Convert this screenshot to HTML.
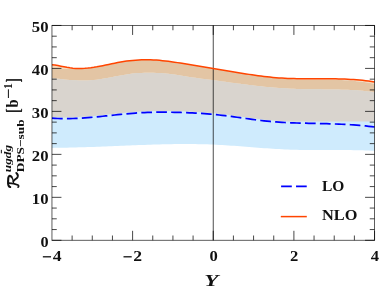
<!DOCTYPE html>
<html><head><meta charset="utf-8"><title>plot</title>
<style>
html,body{margin:0;padding:0;background:#fff;}
body{width:381px;height:294px;overflow:hidden;font-family:"Liberation Serif",serif;}
svg{display:block;}
text{filter:grayscale(1);font-family:"Liberation Serif",serif;font-weight:bold;font-size:15.2px;fill:#111;}
</style></head><body>
<svg width="381" height="294" viewBox="0 0 381 294">
<rect width="381" height="294" fill="#fff"/>
<!-- LO band -->
<path d="M52.0,78.25L54.9,78.52L57.9,78.81L60.9,79.11L63.9,79.39L66.9,79.67L69.9,79.92L72.9,80.14L75.8,80.32L78.8,80.45L81.8,80.52L84.8,80.52L87.8,80.45L90.8,80.30L93.8,80.05L96.8,79.71L99.7,79.31L102.7,78.84L105.7,78.32L108.7,77.77L111.7,77.20L114.7,76.61L117.7,76.03L120.7,75.47L123.6,74.93L126.6,74.44L129.6,74.00L132.6,73.62L135.6,73.31L138.6,73.07L141.6,72.89L144.5,72.77L147.5,72.71L150.5,72.71L153.5,72.77L156.5,72.88L159.5,73.05L162.5,73.27L165.5,73.54L168.4,73.85L171.4,74.22L174.4,74.62L177.4,75.06L180.4,75.52L183.4,75.99L186.4,76.46L189.4,76.93L192.3,77.38L195.3,77.81L198.3,78.22L201.3,78.63L204.3,79.02L207.3,79.42L210.3,79.81L213.2,80.21L216.2,80.61L219.2,81.02L222.2,81.43L225.2,81.84L228.2,82.24L231.2,82.65L234.2,83.05L237.1,83.45L240.1,83.84L243.1,84.23L246.1,84.61L249.1,84.97L252.1,85.33L255.1,85.68L258.1,86.02L261.0,86.34L264.0,86.64L267.0,86.94L270.0,87.21L273.0,87.47L276.0,87.72L279.0,87.95L282.0,88.16L284.9,88.35L287.9,88.53L290.9,88.69L293.9,88.83L296.9,88.95L299.9,89.05L302.9,89.13L305.8,89.20L308.8,89.25L311.8,89.29L314.8,89.32L317.8,89.35L320.8,89.37L323.8,89.39L326.8,89.41L329.7,89.44L332.7,89.47L335.7,89.52L338.7,89.57L341.7,89.65L344.7,89.74L347.7,89.85L350.7,89.99L353.6,90.15L356.6,90.35L359.6,90.58L362.6,90.84L365.6,91.14L368.6,91.48L371.6,91.86L374.6,92.29L374.6,150.86L371.6,150.71L368.6,150.58L365.6,150.46L362.6,150.36L359.6,150.27L356.6,150.19L353.6,150.13L350.7,150.08L347.7,150.04L344.7,150.01L341.7,149.99L338.7,149.98L335.7,149.97L332.7,149.97L329.7,149.98L326.8,149.99L323.8,149.99L320.8,150.00L317.8,150.01L314.8,150.01L311.8,150.00L308.8,149.99L305.8,149.97L302.9,149.94L299.9,149.89L296.9,149.83L293.9,149.75L290.9,149.66L287.9,149.54L284.9,149.41L282.0,149.27L279.0,149.11L276.0,148.93L273.0,148.74L270.0,148.55L267.0,148.34L264.0,148.13L261.0,147.91L258.1,147.68L255.1,147.45L252.1,147.22L249.1,146.99L246.1,146.76L243.1,146.53L240.1,146.30L237.1,146.07L234.2,145.86L231.2,145.64L228.2,145.44L225.2,145.25L222.2,145.07L219.2,144.90L216.2,144.74L213.2,144.60L210.3,144.47L207.3,144.37L204.3,144.27L201.3,144.20L198.3,144.14L195.3,144.09L192.3,144.05L189.4,144.03L186.4,144.03L183.4,144.03L180.4,144.04L177.4,144.07L174.4,144.11L171.4,144.15L168.4,144.21L165.5,144.27L162.5,144.34L159.5,144.42L156.5,144.50L153.5,144.60L150.5,144.69L147.5,144.79L144.5,144.90L141.6,145.01L138.6,145.12L135.6,145.24L132.6,145.36L129.6,145.48L126.6,145.60L123.6,145.72L120.7,145.84L117.7,145.96L114.7,146.08L111.7,146.20L108.7,146.32L105.7,146.44L102.7,146.55L99.7,146.67L96.8,146.78L93.8,146.88L90.8,146.99L87.8,147.09L84.8,147.19L81.8,147.28L78.8,147.37L75.8,147.45L72.9,147.53L69.9,147.60L66.9,147.67L63.9,147.73L60.9,147.78L57.9,147.82L54.9,147.86L52.0,147.89Z" fill="#cfebfd"/>
<!-- overlap -->
<path d="M52.0,78.25L54.9,78.52L57.9,78.81L60.9,79.11L63.9,79.39L66.9,79.67L69.9,79.92L72.9,80.14L75.8,80.32L78.8,80.45L81.8,80.52L84.8,80.52L87.8,80.45L90.8,80.30L93.8,80.05L96.8,79.71L99.7,79.31L102.7,78.84L105.7,78.32L108.7,77.77L111.7,77.20L114.7,76.61L117.7,76.03L120.7,75.47L123.6,74.93L126.6,74.44L129.6,74.00L132.6,73.62L135.6,73.31L138.6,73.07L141.6,72.89L144.5,72.77L147.5,72.71L150.5,72.71L153.5,72.77L156.5,72.88L159.5,73.05L162.5,73.27L165.5,73.54L168.4,73.85L171.4,74.22L174.4,74.62L177.4,75.06L180.4,75.52L183.4,75.99L186.4,76.46L189.4,76.93L192.3,77.38L195.3,77.81L198.3,78.22L201.3,78.63L204.3,79.02L207.3,79.42L210.3,79.81L213.2,80.21L216.2,80.61L219.2,81.02L222.2,81.43L225.2,81.84L228.2,82.24L231.2,82.65L234.2,83.05L237.1,83.45L240.1,83.84L243.1,84.23L246.1,84.61L249.1,84.97L252.1,85.33L255.1,85.68L258.1,86.02L261.0,86.34L264.0,86.64L267.0,86.94L270.0,87.21L273.0,87.47L276.0,87.72L279.0,87.95L282.0,88.16L284.9,88.35L287.9,88.53L290.9,88.69L293.9,88.83L296.9,88.95L299.9,89.05L302.9,89.13L305.8,89.20L308.8,89.25L311.8,89.29L314.8,89.32L317.8,89.35L320.8,89.37L323.8,89.39L326.8,89.41L329.7,89.44L332.7,89.47L335.7,89.52L338.7,89.57L341.7,89.65L344.7,89.74L347.7,89.85L350.7,89.99L353.6,90.15L356.6,90.35L359.6,90.58L362.6,90.84L365.6,91.14L368.6,91.48L371.6,91.86L374.6,92.29L374.6,121.60L371.6,121.60L368.6,121.60L365.6,121.60L362.6,121.60L359.6,121.60L356.6,121.60L353.6,121.60L350.7,121.60L347.7,121.60L344.7,121.60L341.7,121.60L338.7,121.60L335.7,121.60L332.7,121.60L329.7,121.60L326.8,121.60L323.8,121.60L320.8,121.60L317.8,121.60L314.8,121.60L311.8,121.60L308.8,121.60L305.8,121.60L302.9,121.60L299.9,121.60L296.9,121.60L293.9,121.60L290.9,121.59L287.9,121.46L284.9,121.32L282.0,121.16L279.0,120.98L276.0,120.77L273.0,120.54L270.0,120.27L267.0,119.97L264.0,119.65L261.0,119.31L258.1,118.94L255.1,118.56L252.1,118.16L249.1,117.75L246.1,117.33L243.1,116.91L240.1,116.49L237.1,116.07L234.2,115.66L231.2,115.26L228.2,114.87L225.2,114.49L222.2,114.13L219.2,113.80L216.2,113.49L213.2,113.20L210.3,112.93L207.3,112.68L204.3,112.46L201.3,112.25L198.3,112.06L195.3,111.89L192.3,111.74L189.4,111.60L186.4,111.48L183.4,111.37L180.4,111.27L177.4,111.19L174.4,111.12L171.4,111.06L168.4,111.02L165.5,110.99L162.5,110.98L159.5,110.98L156.5,111.01L153.5,111.05L150.5,111.12L147.5,111.22L144.5,111.34L141.6,111.49L138.6,111.66L135.6,111.87L132.6,112.10L129.6,112.35L126.6,112.62L123.6,112.90L120.7,113.20L117.7,113.50L114.7,113.82L111.7,114.13L108.7,114.45L105.7,114.76L102.7,115.07L99.7,115.37L96.8,115.66L93.8,115.94L90.8,116.20L87.8,116.44L84.8,116.66L81.8,116.85L78.8,117.02L75.8,117.17L72.9,117.28L69.9,117.36L66.9,117.40L63.9,117.41L60.9,117.37L57.9,117.29L54.9,117.17L52.0,117.00Z" fill="#d9d4ce"/>
<!-- light strip under NLO curve -->
<path d="M52.0,64.75L54.9,65.10L57.9,65.59L60.9,66.16L63.9,66.76L66.9,67.34L69.9,67.84L72.9,68.20L75.8,68.43L78.8,68.52L81.8,68.49L84.8,68.34L87.8,68.09L90.8,67.74L93.8,67.31L96.8,66.81L99.7,66.26L102.7,65.67L105.7,65.05L108.7,64.41L111.7,63.78L114.7,63.16L117.7,62.57L120.7,62.02L123.6,61.52L126.6,61.08L129.6,60.70L132.6,60.39L135.6,60.13L138.6,59.93L141.6,59.80L144.5,59.73L147.5,59.73L150.5,59.79L153.5,59.92L156.5,60.11L159.5,60.35L162.5,60.64L165.5,60.98L168.4,61.35L171.4,61.75L174.4,62.18L177.4,62.63L180.4,63.09L183.4,63.56L186.4,64.03L189.4,64.51L192.3,65.00L195.3,65.49L198.3,65.98L201.3,66.48L204.3,66.98L207.3,67.48L210.3,67.98L213.2,68.49L216.2,68.99L219.2,69.50L222.2,70.00L225.2,70.50L228.2,71.01L231.2,71.51L234.2,72.00L237.1,72.50L240.1,72.98L243.1,73.46L246.1,73.93L249.1,74.38L252.1,74.83L255.1,75.25L258.1,75.66L261.0,76.05L264.0,76.42L267.0,76.77L270.0,77.09L273.0,77.38L276.0,77.65L279.0,77.89L282.0,78.09L284.9,78.27L287.9,78.41L290.9,78.53L293.9,78.62L296.9,78.69L299.9,78.74L302.9,78.77L305.8,78.79L308.8,78.80L311.8,78.80L314.8,78.80L317.8,78.80L320.8,78.79L323.8,78.79L326.8,78.79L329.7,78.81L332.7,78.83L335.7,78.87L338.7,78.93L341.7,79.01L344.7,79.11L347.7,79.23L350.7,79.39L353.6,79.57L356.6,79.79L359.6,80.05L362.6,80.35L365.6,80.69L368.6,81.07L371.6,81.50L374.6,81.98L374.6,83.78L371.6,83.22L368.6,82.71L365.6,82.25L362.6,81.84L359.6,81.46L356.6,81.13L353.6,80.83L350.7,80.57L347.7,80.33L344.7,80.13L341.7,79.95L338.7,79.83L335.7,79.77L332.7,79.73L329.7,79.71L326.8,79.69L323.8,79.69L320.8,79.69L317.8,79.70L314.8,79.70L311.8,79.70L308.8,79.70L305.8,79.69L302.9,79.67L299.9,79.63L296.9,79.45L293.9,79.24L290.9,79.02L287.9,78.77L284.9,78.49L282.0,78.18L279.0,77.89L276.0,77.65L273.0,77.38L270.0,77.09L267.0,76.77L264.0,76.42L261.0,76.05L258.1,75.66L255.1,75.25L252.1,74.83L249.1,74.38L246.1,73.93L243.1,73.46L240.1,72.98L237.1,72.50L234.2,72.00L231.2,71.51L228.2,71.01L225.2,70.50L222.2,70.00L219.2,69.50L216.2,68.99L213.2,68.49L210.3,67.98L207.3,67.48L204.3,66.98L201.3,66.48L198.3,65.98L195.3,65.49L192.3,65.00L189.4,64.51L186.4,64.03L183.4,63.56L180.4,63.09L177.4,62.63L174.4,62.18L171.4,61.75L168.4,61.35L165.5,60.98L162.5,60.64L159.5,60.35L156.5,60.11L153.5,59.92L150.5,59.79L147.5,59.73L144.5,59.73L141.6,59.80L138.6,59.93L135.6,60.13L132.6,60.39L129.6,60.70L126.6,61.08L123.6,61.52L120.7,62.02L117.7,62.57L114.7,63.16L111.7,63.78L108.7,64.41L105.7,65.05L102.7,65.67L99.7,66.26L96.8,66.81L93.8,67.31L90.8,67.74L87.8,68.09L84.8,68.34L81.8,68.49L78.8,68.52L75.8,68.73L72.9,68.93L69.9,68.99L66.9,68.92L63.9,68.77L60.9,68.59L57.9,68.44L54.9,68.37L52.0,68.45Z" fill="#f9d9b8"/>
<!-- NLO band -->
<path d="M52.0,68.45L54.9,68.37L57.9,68.44L60.9,68.59L63.9,68.77L66.9,68.92L69.9,68.99L72.9,68.93L75.8,68.73L78.8,68.52L81.8,68.49L84.8,68.34L87.8,68.09L90.8,67.74L93.8,67.31L96.8,66.81L99.7,66.26L102.7,65.67L105.7,65.05L108.7,64.41L111.7,63.78L114.7,63.16L117.7,62.57L120.7,62.02L123.6,61.52L126.6,61.08L129.6,60.70L132.6,60.39L135.6,60.13L138.6,59.93L141.6,59.80L144.5,59.73L147.5,59.73L150.5,59.79L153.5,59.92L156.5,60.11L159.5,60.35L162.5,60.64L165.5,60.98L168.4,61.35L171.4,61.75L174.4,62.18L177.4,62.63L180.4,63.09L183.4,63.56L186.4,64.03L189.4,64.51L192.3,65.00L195.3,65.49L198.3,65.98L201.3,66.48L204.3,66.98L207.3,67.48L210.3,67.98L213.2,68.49L216.2,68.99L219.2,69.50L222.2,70.00L225.2,70.50L228.2,71.01L231.2,71.51L234.2,72.00L237.1,72.50L240.1,72.98L243.1,73.46L246.1,73.93L249.1,74.38L252.1,74.83L255.1,75.25L258.1,75.66L261.0,76.05L264.0,76.42L267.0,76.77L270.0,77.09L273.0,77.38L276.0,77.65L279.0,77.89L282.0,78.18L284.9,78.49L287.9,78.77L290.9,79.02L293.9,79.24L296.9,79.45L299.9,79.63L302.9,79.67L305.8,79.69L308.8,79.70L311.8,79.70L314.8,79.70L317.8,79.70L320.8,79.69L323.8,79.69L326.8,79.69L329.7,79.71L332.7,79.73L335.7,79.77L338.7,79.83L341.7,79.95L344.7,80.13L347.7,80.33L350.7,80.57L353.6,80.83L356.6,81.13L359.6,81.46L362.6,81.84L365.6,82.25L368.6,82.71L371.6,83.22L374.6,83.78L374.6,92.29L371.6,91.86L368.6,91.48L365.6,91.14L362.6,90.84L359.6,90.58L356.6,90.35L353.6,90.15L350.7,89.99L347.7,89.85L344.7,89.74L341.7,89.65L338.7,89.57L335.7,89.52L332.7,89.47L329.7,89.44L326.8,89.41L323.8,89.39L320.8,89.37L317.8,89.35L314.8,89.32L311.8,89.29L308.8,89.25L305.8,89.20L302.9,89.13L299.9,89.05L296.9,88.95L293.9,88.83L290.9,88.69L287.9,88.53L284.9,88.35L282.0,88.16L279.0,87.95L276.0,87.72L273.0,87.47L270.0,87.21L267.0,86.94L264.0,86.64L261.0,86.34L258.1,86.02L255.1,85.68L252.1,85.33L249.1,84.97L246.1,84.61L243.1,84.23L240.1,83.84L237.1,83.45L234.2,83.05L231.2,82.65L228.2,82.24L225.2,81.84L222.2,81.43L219.2,81.02L216.2,80.61L213.2,80.21L210.3,79.81L207.3,79.42L204.3,79.02L201.3,78.63L198.3,78.22L195.3,77.81L192.3,77.38L189.4,76.93L186.4,76.46L183.4,75.99L180.4,75.52L177.4,75.06L174.4,74.62L171.4,74.22L168.4,73.85L165.5,73.54L162.5,73.27L159.5,73.05L156.5,72.88L153.5,72.77L150.5,72.71L147.5,72.71L144.5,72.77L141.6,72.89L138.6,73.07L135.6,73.31L132.6,73.62L129.6,74.00L126.6,74.44L123.6,74.93L120.7,75.47L117.7,76.03L114.7,76.61L111.7,77.20L108.7,77.77L105.7,78.32L102.7,78.84L99.7,79.31L96.8,79.71L93.8,80.05L90.8,80.30L87.8,80.45L84.8,80.52L81.8,80.52L78.8,80.45L75.8,80.32L72.9,80.14L69.9,79.92L66.9,79.67L63.9,79.39L60.9,79.11L57.9,78.81L54.9,78.52L52.0,78.25Z" fill="#e3c5a4"/>
<!-- zero line -->
<path d="M213.25,25.45V240.3" stroke="#000" stroke-opacity="0.78" stroke-width="0.9" fill="none"/>
<!-- LO curve -->
<path d="M52.0,118.20L54.9,118.37L57.9,118.49L60.9,118.57L63.9,118.61L66.9,118.60L69.9,118.56L72.9,118.48L75.8,118.37L78.8,118.22L81.8,118.05L84.8,117.86L87.8,117.64L90.8,117.40L93.8,117.14L96.8,116.86L99.7,116.57L102.7,116.27L105.7,115.96L108.7,115.65L111.7,115.33L114.7,115.02L117.7,114.70L120.7,114.40L123.6,114.10L126.6,113.82L129.6,113.55L132.6,113.30L135.6,113.07L138.6,112.86L141.6,112.69L144.5,112.54L147.5,112.42L150.5,112.32L153.5,112.25L156.5,112.21L159.5,112.18L162.5,112.18L165.5,112.19L168.4,112.22L171.4,112.26L174.4,112.32L177.4,112.39L180.4,112.47L183.4,112.57L186.4,112.68L189.4,112.80L192.3,112.94L195.3,113.09L198.3,113.26L201.3,113.45L204.3,113.66L207.3,113.88L210.3,114.13L213.2,114.40L216.2,114.69L219.2,115.00L222.2,115.33L225.2,115.69L228.2,116.07L231.2,116.46L234.2,116.86L237.1,117.27L240.1,117.69L243.1,118.11L246.1,118.53L249.1,118.95L252.1,119.36L255.1,119.76L258.1,120.14L261.0,120.51L264.0,120.85L267.0,121.17L270.0,121.47L273.0,121.74L276.0,121.97L279.0,122.18L282.0,122.36L284.9,122.52L287.9,122.66L290.9,122.79L293.9,122.89L296.9,122.99L299.9,123.07L302.9,123.15L305.8,123.22L308.8,123.28L311.8,123.35L314.8,123.41L317.8,123.48L320.8,123.55L323.8,123.63L326.8,123.71L329.7,123.80L332.7,123.90L335.7,124.01L338.7,124.13L341.7,124.26L344.7,124.41L347.7,124.57L350.7,124.75L353.6,124.95L356.6,125.17L359.6,125.41L362.6,125.68L365.6,125.96L368.6,126.28L371.6,126.62L374.6,126.98" fill="none" stroke="#0000ff" stroke-width="1.7" stroke-dasharray="10.7 4.23"/>
<!-- NLO curve -->
<path d="M52.0,64.75L54.9,65.10L57.9,65.59L60.9,66.16L63.9,66.76L66.9,67.34L69.9,67.84L72.9,68.20L75.8,68.43L78.8,68.52L81.8,68.49L84.8,68.34L87.8,68.09L90.8,67.74L93.8,67.31L96.8,66.81L99.7,66.26L102.7,65.67L105.7,65.05L108.7,64.41L111.7,63.78L114.7,63.16L117.7,62.57L120.7,62.02L123.6,61.52L126.6,61.08L129.6,60.70L132.6,60.39L135.6,60.13L138.6,59.93L141.6,59.80L144.5,59.73L147.5,59.73L150.5,59.79L153.5,59.92L156.5,60.11L159.5,60.35L162.5,60.64L165.5,60.98L168.4,61.35L171.4,61.75L174.4,62.18L177.4,62.63L180.4,63.09L183.4,63.56L186.4,64.03L189.4,64.51L192.3,65.00L195.3,65.49L198.3,65.98L201.3,66.48L204.3,66.98L207.3,67.48L210.3,67.98L213.2,68.49L216.2,68.99L219.2,69.50L222.2,70.00L225.2,70.50L228.2,71.01L231.2,71.51L234.2,72.00L237.1,72.50L240.1,72.98L243.1,73.46L246.1,73.93L249.1,74.38L252.1,74.83L255.1,75.25L258.1,75.66L261.0,76.05L264.0,76.42L267.0,76.77L270.0,77.09L273.0,77.38L276.0,77.65L279.0,77.89L282.0,78.09L284.9,78.27L287.9,78.41L290.9,78.53L293.9,78.62L296.9,78.69L299.9,78.74L302.9,78.77L305.8,78.79L308.8,78.80L311.8,78.80L314.8,78.80L317.8,78.80L320.8,78.79L323.8,78.79L326.8,78.79L329.7,78.81L332.7,78.83L335.7,78.87L338.7,78.93L341.7,79.01L344.7,79.11L347.7,79.23L350.7,79.39L353.6,79.57L356.6,79.79L359.6,80.05L362.6,80.35L365.6,80.69L368.6,81.07L371.6,81.50L374.6,81.98" fill="none" stroke="#ff4500" stroke-width="1.5"/>
<!-- frame + ticks -->
<rect x="51.95" y="25.45" width="322.60" height="214.85" fill="none" stroke="#000" stroke-opacity="0.7" stroke-width="0.9"/>
<path d="M51.95,240.30h9.5M374.55,240.30h-9.5M51.95,197.33h9.5M374.55,197.33h-9.5M51.95,154.36h9.5M374.55,154.36h-9.5M51.95,111.39h9.5M374.55,111.39h-9.5M51.95,68.42h9.5M374.55,68.42h-9.5M51.95,25.45h9.5M374.55,25.45h-9.5M132.60,240.3v-9.5M132.60,25.45v9.5M213.25,240.3v-9.5M213.25,25.45v9.5M293.90,240.3v-9.5M293.90,25.45v9.5M374.55,240.3v-9.5M374.55,25.45v9.5" fill="none" stroke="#000" stroke-opacity="0.8" stroke-width="0.9"/>
<path d="M51.95,229.56h4.8M374.55,229.56h-4.8M51.95,218.81h4.8M374.55,218.81h-4.8M51.95,208.07h4.8M374.55,208.07h-4.8M51.95,186.59h4.8M374.55,186.59h-4.8M51.95,175.84h4.8M374.55,175.84h-4.8M51.95,165.10h4.8M374.55,165.10h-4.8M51.95,143.62h4.8M374.55,143.62h-4.8M51.95,132.88h4.8M374.55,132.88h-4.8M51.95,122.13h4.8M374.55,122.13h-4.8M51.95,100.65h4.8M374.55,100.65h-4.8M51.95,89.91h4.8M374.55,89.91h-4.8M51.95,79.16h4.8M374.55,79.16h-4.8M51.95,57.68h4.8M374.55,57.68h-4.8M51.95,46.93h4.8M374.55,46.93h-4.8M51.95,36.19h4.8M374.55,36.19h-4.8M72.11,240.3v-4.8M72.11,25.45v4.8M92.28,240.3v-4.8M92.28,25.45v4.8M112.44,240.3v-4.8M112.44,25.45v4.8M152.76,240.3v-4.8M152.76,25.45v4.8M172.93,240.3v-4.8M172.93,25.45v4.8M193.09,240.3v-4.8M193.09,25.45v4.8M233.41,240.3v-4.8M233.41,25.45v4.8M253.57,240.3v-4.8M253.57,25.45v4.8M273.74,240.3v-4.8M273.74,25.45v4.8M314.06,240.3v-4.8M314.06,25.45v4.8M334.23,240.3v-4.8M334.23,25.45v4.8M354.39,240.3v-4.8M354.39,25.45v4.8" fill="none" stroke="#000" stroke-opacity="0.8" stroke-width="0.9"/>
<g><text x="48.5" y="246.60" text-anchor="end" textLength="8.1" lengthAdjust="spacingAndGlyphs">0</text><text x="48.5" y="203.63" text-anchor="end" textLength="16.7" lengthAdjust="spacingAndGlyphs">10</text><text x="48.5" y="160.66" text-anchor="end" textLength="16.7" lengthAdjust="spacingAndGlyphs">20</text><text x="48.5" y="117.69" text-anchor="end" textLength="16.7" lengthAdjust="spacingAndGlyphs">30</text><text x="48.5" y="74.72" text-anchor="end" textLength="16.7" lengthAdjust="spacingAndGlyphs">40</text><text x="48.5" y="31.75" text-anchor="end" textLength="16.7" lengthAdjust="spacingAndGlyphs">50</text></g>
<g><path d="M42.85,256.8h8.2" stroke="#111" stroke-width="1.3"/><text x="52.65" y="261.2" textLength="8.8" lengthAdjust="spacingAndGlyphs">4</text><path d="M123.50,256.8h8.2" stroke="#111" stroke-width="1.3"/><text x="133.30" y="261.2" textLength="8.8" lengthAdjust="spacingAndGlyphs">2</text><text x="213.55" y="261.2" text-anchor="middle" textLength="8.3" lengthAdjust="spacingAndGlyphs">0</text><text x="294.20" y="261.2" text-anchor="middle" textLength="8.3" lengthAdjust="spacingAndGlyphs">2</text><text x="374.85" y="261.2" text-anchor="middle" textLength="8.3" lengthAdjust="spacingAndGlyphs">4</text></g>
<!-- legend -->
<path d="M281.1,186.4H307" stroke="#0000ff" stroke-width="1.7" stroke-dasharray="10.7 4.23" fill="none"/>
<path d="M280.8,216.6H306.8" stroke="#ff4500" stroke-width="1.5" fill="none"/>
<text x="322" y="190.8" textLength="22.4" lengthAdjust="spacingAndGlyphs">LO</text>
<text x="322" y="220.3" textLength="35.4" lengthAdjust="spacingAndGlyphs">NLO</text>
<!-- x label -->
<text x="211.4" y="285.7" text-anchor="middle" font-style="italic" style="font-size:16px" textLength="14.2" lengthAdjust="spacingAndGlyphs">Y</text>
<!-- y label -->
<g transform="rotate(-90)">
<g fill="none" stroke="#111" stroke-linecap="round" stroke-linejoin="round">
<path d="M-187,10.2C-186.6,8.4 -184.5,7.9 -181.5,8.1L-177.8,8.3C-175.4,8.6 -175.3,10.6 -177,11.6" stroke-width="2.1"/>
<path d="M-177,11.6C-178.6,12.9 -180.6,13.4 -182.8,13.5" stroke-width="1.3"/>
<path d="M-181.2,13.4C-179.6,14.4 -178.8,16.8 -176.8,17.7C-175.3,18.2 -173.9,17.5 -172.9,16.3" stroke-width="1.9"/>
<path d="M-183.2,8.4C-183.1,12 -183.9,15.4 -185,17.9C-185.6,18.9 -186.6,18.8 -187.2,18.1" stroke-width="1.7"/>
</g>
<text x="-172.2" y="11.2" style="font-size:11.4px;font-style:italic" textLength="27.2" lengthAdjust="spacingAndGlyphs">ugdg</text>
<path d="M-153.3,1.35h3.5" stroke="#111" stroke-width="1"/>
<text x="-172.2" y="23.5" style="font-size:11.4px" textLength="52.8" lengthAdjust="spacingAndGlyphs">DPS−sub</text>
<path d="M-108.8,6.3H-111.1V21.6H-108.8" fill="none" stroke="#111" stroke-width="0.9"/>
<path d="M-111.2,6V22" fill="none" stroke="#111" stroke-width="1.3"/>
<text x="-107.6" y="17.7" style="font-size:17px" textLength="8" lengthAdjust="spacingAndGlyphs">b</text>
<path d="M-98,8.4h8.7" stroke="#111" stroke-width="1"/>
<text x="-89" y="11.6" style="font-size:11.6px">1</text>
<path d="M-82,6.3H-80V21.6H-82" fill="none" stroke="#111" stroke-width="0.9"/>
<path d="M-79.9,6V22" fill="none" stroke="#111" stroke-width="1.3"/>
</g>
</svg>
</body></html>
